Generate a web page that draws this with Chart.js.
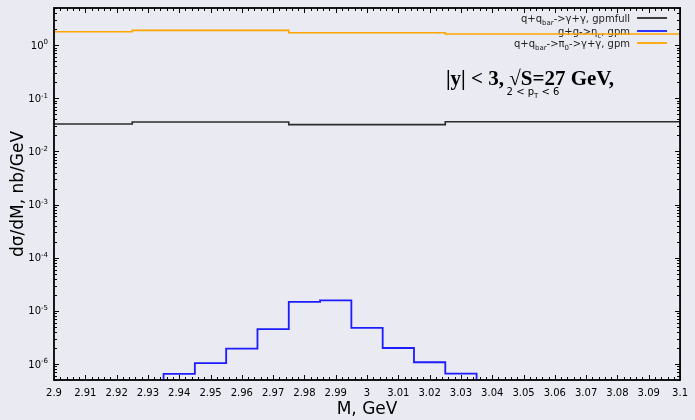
<!DOCTYPE html>
<html>
<head>
<meta charset="utf-8">
<script src="https://cdn.jsdelivr.net/npm/chart.js@4.4.0/dist/chart.umd.min.js"></script>
<style>
  html, body { margin: 0; padding: 0; background: #eaeaf2; }
  canvas { display: block; }
</style>
</head>
<body>
<canvas id="myChart" width="695" height="420"></canvas>
<script>
// bin edges (GeV) and values (nb/GeV)
const coarseEdges = [2.875, 2.925, 2.975, 3.025, 3.075, 3.125];
const gpmFull = [0.0328, 0.0358, 0.0319, 0.0363, 0.0363];
const pi0Gpm = [1.79, 1.90, 1.71, 1.62, 1.62];

const etaEdges = [2.935, 2.945, 2.955, 2.965, 2.975, 2.985, 2.995, 3.005, 3.015, 3.025, 3.035];
const etaGpm = [6.5e-7, 1.04e-6, 1.94e-6, 4.55e-6, 1.47e-5, 1.58e-5, 4.8e-6, 2.0e-6, 1.08e-6, 6.6e-7];

const xTickLabels = ['2.9', '2.91', '2.92', '2.93', '2.94', '2.95', '2.96', '2.97', '2.98', '2.99', '3',
                     '3.01', '3.02', '3.03', '3.04', '3.05', '3.06', '3.07', '3.08', '3.09', '3.1'];
const yTickValues = [1e-6, 1e-5, 1e-4, 1e-3, 1e-2, 1e-1, 1];

const seriesLabels = ['q+q_{bar}->γ+γ, gpmfull', 'g+g->η_{c}, gpm', 'q+q_{bar}->π_{0}->γ+γ, gpm'];
const seriesColors = ['#2b2b2b', '#1c1cff', '#ffa500'];

const xMin = 2.9, xMax = 3.1;
const yMin = 5e-7, yMax = 5;
const histFloor = 1e-9; // below the axis, so edges run down off the plot

function steps(edges, vals) {
    const pts = vals.map((v, i) => ({ x: edges[i], y: v }));
    pts.push({ x: edges[edges.length - 1], y: vals[vals.length - 1] });
    return pts;
}

function histo(edges, vals) {
    const pts = [{ x: edges[0], y: histFloor }];
    vals.forEach((v, i) => pts.push({ x: edges[i], y: v }));
    pts.push({ x: edges[edges.length - 1], y: vals[vals.length - 1] });
    pts.push({ x: edges[edges.length - 1], y: histFloor });
    return pts;
}

// text with _{sub} and ^{sup} parts
function parseRich(str) {
    const parts = [];
    const re = /([_^])\{([^}]*)\}/g;
    let last = 0, m;
    while ((m = re.exec(str)) !== null) {
        if (m.index > last) parts.push({ t: str.slice(last, m.index), k: 0 });
        parts.push({ t: m[2], k: m[1] === '_' ? -1 : 1 });
        last = re.lastIndex;
    }
    if (last < str.length) parts.push({ t: str.slice(last), k: 0 });
    return parts;
}

function drawRich(ctx, str, x, y, size, align) {
    const parts = parseRich(str);
    const mainFont = size + 'px "DejaVu Sans"';
    const smallFont = Math.round(size * 0.72) + 'px "DejaVu Sans"';
    let w = 0;
    parts.forEach(p => { ctx.font = p.k ? smallFont : mainFont; p.w = ctx.measureText(p.t).width; w += p.w; });
    let cx = align === 'right' ? x - w : (align === 'center' ? x - w / 2 : x);
    ctx.textAlign = 'left';
    ctx.textBaseline = 'alphabetic';
    parts.forEach(p => {
        ctx.font = p.k ? smallFont : mainFont;
        const dy = p.k === -1 ? size * 0.3 : (p.k === 1 ? -size * 0.42 : 0);
        ctx.fillText(p.t, cx, y + dy);
        cx += p.w;
    });
}

const bgPlugin = {
    id: 'bg',
    beforeDraw(chart) {
        const ctx = chart.ctx;
        ctx.save();
        ctx.fillStyle = '#eaeaf2';
        ctx.fillRect(0, 0, chart.width, chart.height);
        ctx.restore();
    }
};

const legendPlugin = {
    id: 'richLegend',
    beforeDatasetsDraw(chart) {
        const ctx = chart.ctx;
        const area = chart.chartArea;
        ctx.save();
        ctx.fillStyle = '#222';
        const rowY = [18, 31, 43];
        seriesLabels.forEach((lab, i) => {
            drawRich(ctx, lab, area.right - 50, rowY[i] + 3.5, 10, 'right');
            ctx.strokeStyle = seriesColors[i];
            ctx.lineWidth = 1.8;
            ctx.beginPath();
            ctx.moveTo(area.right - 43, rowY[i]);
            ctx.lineTo(area.right - 13, rowY[i]);
            ctx.stroke();
        });
        // annotation
        ctx.fillStyle = '#000';
        ctx.font = 'bold 21px "Liberation Serif"';
        ctx.textAlign = 'center';
        ctx.fillText('|y| < 3, √S=27 GeV,', 530, 85);
        drawRich(ctx, '2 < p_{T} < 6', 533, 95, 10, 'center');
        ctx.restore();
    }
};

const framePlugin = {
    id: 'frame',
    afterDatasetsDraw(chart) {
        const ctx = chart.ctx;
        const a = chart.chartArea;
        const xs = chart.scales.x, ys = chart.scales.y;
        ctx.save();
        ctx.strokeStyle = '#000';
        ctx.lineWidth = 1;
        ctx.beginPath();
        // x ticks, top and bottom
        xTickLabels.forEach(t => {
            const px = Math.round(xs.getPixelForValue(parseFloat(t))) + 0.5;
            ctx.moveTo(px, a.bottom); ctx.lineTo(px, a.bottom - 5);
            ctx.moveTo(px, a.top); ctx.lineTo(px, a.top + 5);
        });
        for (let i = 0; i <= 100; i++) {
            if (i % 5 === 0) continue;
            const px = Math.round(xs.getPixelForValue(xMin + i * 0.002)) + 0.5;
            ctx.moveTo(px, a.bottom); ctx.lineTo(px, a.bottom - 3);
            ctx.moveTo(px, a.top); ctx.lineTo(px, a.top + 3);
        }
        // y ticks, left and right
        for (let e = -7; e <= 0; e++) {
            for (let k = 1; k <= 9; k++) {
                const v = k * Math.pow(10, e);
                if (v < yMin || v > yMax) continue;
                const py = Math.round(ys.getPixelForValue(v)) + 0.5;
                const len = k === 1 ? 5 : 3;
                ctx.moveTo(a.left, py); ctx.lineTo(a.left + len, py);
                ctx.moveTo(a.right, py); ctx.lineTo(a.right - len, py);
            }
        }
        ctx.stroke();
        ctx.lineWidth = 1.8;
        ctx.strokeRect(a.left, a.top, a.right - a.left, a.bottom - a.top);
        // y tick labels as 10^{n}
        ctx.fillStyle = '#000';
        yTickValues.forEach(v => {
            const py = ys.getPixelForValue(v);
            drawRich(ctx, '10^{' + Math.round(Math.log10(v)) + '}', a.left - 6, py + 3.5, 10, 'right');
        });
        ctx.restore();
    }
};

const myChart = new Chart(document.getElementById('myChart'), {
    type: 'line',
    data: {
        datasets: [{
            label: seriesLabels[0],
            data: steps(coarseEdges, gpmFull),
            borderColor: seriesColors[0],
            borderWidth: 1.6
        }, {
            label: seriesLabels[1],
            data: histo(etaEdges, etaGpm),
            borderColor: seriesColors[1],
            borderWidth: 1.8
        }, {
            label: seriesLabels[2],
            data: steps(coarseEdges, pi0Gpm),
            borderColor: seriesColors[2],
            borderWidth: 1.6
        }]
    },
    options: {
        responsive: false,
        animation: false,
        devicePixelRatio: 1,
        layout: { padding: { left: 0, top: 8, right: 12, bottom: 0 } },
        elements: {
            line: { stepped: 'before', fill: false, tension: 0 },
            point: { radius: 0 }
        },
        plugins: {
            legend: { display: false },
            tooltip: { enabled: false }
        },
        scales: {
            x: {
                type: 'linear',
                min: xMin,
                max: xMax,
                grid: { display: false, drawTicks: false },
                border: { display: false },
                afterBuildTicks: s => { s.ticks = xTickLabels.map(t => ({ value: parseFloat(t) })); },
                afterFit: s => { s.height = 40; },
                ticks: {
                    autoSkip: false,
                    maxRotation: 0,
                    padding: 7,
                    color: '#000',
                    font: { family: 'DejaVu Sans', size: 10 },
                    callback: v => xTickLabels.find(t => Math.abs(parseFloat(t) - v) < 1e-6)
                },
                title: {
                    display: true,
                    text: 'M, GeV',
                    color: '#000',
                    font: { family: 'DejaVu Sans', size: 17 },
                    padding: { top: 0, bottom: 0 }
                }
            },
            y: {
                type: 'logarithmic',
                min: yMin,
                max: yMax,
                grid: { display: false, drawTicks: false },
                border: { display: false },
                afterBuildTicks: s => { s.ticks = yTickValues.map(v => ({ value: v })); },
                afterFit: s => { s.width = 54; },
                ticks: { display: false },
                title: {
                    display: true,
                    text: 'dσ/dM, nb/GeV',
                    color: '#000',
                    font: { family: 'DejaVu Sans', size: 17 },
                    padding: { top: 8, bottom: 0 }
                }
            }
        }
    },
    plugins: [bgPlugin, legendPlugin, framePlugin]
});
</script>
</body>
</html>
